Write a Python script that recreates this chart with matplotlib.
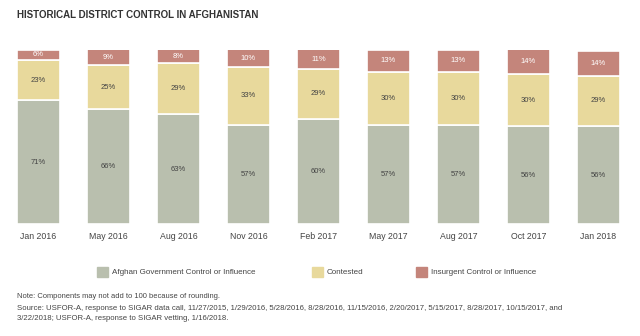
import matplotlib
matplotlib.use("Agg")
import matplotlib.pyplot as plt
import numpy as np

plt.rcParams['font.family'] = ['Liberation Sans', 'DejaVu Sans']

categories = ["Jan 2016", "May 2016", "Aug 2016", "Nov 2016", "Feb 2017",
              "May 2017", "Aug 2017", "Oct 2017", "Jan 2018"]
government = [71, 66, 63, 57, 60, 57, 57, 56, 56]
contested = [23, 25, 29, 33, 29, 30, 30, 30, 29]
insurgent = [6, 9, 8, 10, 11, 13, 13, 14, 14]
series_names = ["Afghan Government Control or Influence", "Contested",
                "Insurgent Control or Influence"]

c_gov = "#b9bfae"
c_con = "#e8d99c"
c_ins = "#c4857b"

fig = plt.figure(figsize=(6.4, 3.36), dpi=100)
W, H = 640, 336
ax = fig.add_axes([0, (H - 224) / H, 1, (224 - 49.5) / H])
x = np.arange(len(categories))
ax.set_xlim(-38.5 / 70, (W - 38.5) / 70)
ax.set_ylim(0, 100)
bw = 43 / 70

gov = np.array(government)
con = np.array(contested)
ins = np.array(insurgent)
ax.bar(x, gov, bw, color=c_gov, edgecolor="white", linewidth=1.2)
ax.bar(x, con, bw, bottom=gov, color=c_con, edgecolor="white", linewidth=1.2)
ax.bar(x, ins, bw, bottom=gov + con, color=c_ins, edgecolor="white", linewidth=1.2)

for i in range(len(categories)):
    ax.text(x[i], gov[i] / 2, f"{gov[i]}%", ha="center", va="center", fontsize=5.5, color="#444444")
    ax.text(x[i], gov[i] + con[i] / 2, f"{con[i]}%", ha="center", va="center", fontsize=5.5, color="#444444")
    ax.text(x[i], gov[i] + con[i] + ins[i] / 2, f"{ins[i]}%", ha="center", va="center", fontsize=5.5, color="white")

ax.set_xticks(x)
ax.set_xticklabels(categories, fontsize=6.3, color="#444444")
ax.tick_params(axis="x", length=0, pad=6)
ax.set_yticks([])
for s in ax.spines.values():
    s.set_visible(False)

fig.text(17 / W, 1 - 15 / H, "HISTORICAL DISTRICT CONTROL IN AFGHANISTAN", fontsize=7,
         fontweight="bold", color="#333333", va="center", ha="left")

# legend
leg_items = [(97, c_gov, series_names[0]), (312, c_con, series_names[1]), (416, c_ins, series_names[2])]
for lx, col, name in leg_items:
    fig.patches.append(plt.Rectangle((lx / W, 1 - 277 / H), 11 / W, 10 / H,
                                     transform=fig.transFigure, color=col))
    fig.text((lx + 15) / W, 1 - 272 / H, name, fontsize=5.8, color="#444444", va="center", ha="left")

fig.text(17 / W, 1 - 296 / H, "Note: Components may not add to 100 because of rounding.",
         fontsize=5.4, color="#444444", va="center")
fig.text(17 / W, 1 - 308 / H,
         "Source: USFOR-A, response to SIGAR data call, 11/27/2015, 1/29/2016, 5/28/2016, 8/28/2016, 11/15/2016, 2/20/2017, 5/15/2017, 8/28/2017, 10/15/2017, and",
         fontsize=5.6, color="#444444", va="center")
fig.text(17 / W, 1 - 318 / H,
         "3/22/2018; USFOR-A, response to SIGAR vetting, 1/16/2018.",
         fontsize=5.6, color="#444444", va="center")

fig.savefig("out.png", dpi=100)
